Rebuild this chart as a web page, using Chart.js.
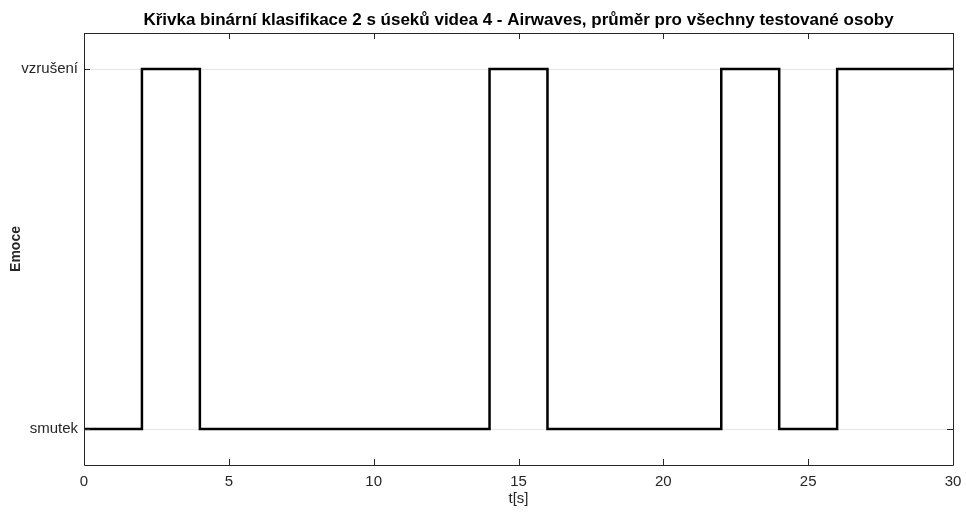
<!DOCTYPE html>
<html>
<head>
<meta charset="utf-8">
<script src="https://cdn.jsdelivr.net/npm/chart.js@4"></script>
<style>
html,body{margin:0;padding:0;background:#fff;}
#wrap{width:966px;height:512px;}
</style>
</head>
<body>
<div id="wrap"><canvas id="c" width="966" height="512"></canvas></div>
<script>
// segment start times [s] and class per segment (0 = smutek, 1 = vzrušení)
const segmentTimes = [0, 2, 4, 6, 8, 10, 12, 14, 16, 18, 20, 22, 24, 26, 28, 30];
const segmentClass = [0, 1, 0, 0, 0, 0, 0, 1, 0, 0, 0, 1, 0, 1, 1, 1];
const classLabels = ['smutek', 'vzrušení'];
const xTicks = [0, 5, 10, 15, 20, 25, 30];
const yTicks = [0, 1];

const points = segmentTimes.map((t, i) => ({x: t, y: segmentClass[i]}));
const FONT = "'Liberation Sans', Arial, Helvetica, sans-serif";
const TXT = '#262626';

const boxPlugin = {
  id: 'boxPlugin',
  afterDraw(chart) {
    const {ctx, chartArea: a, scales: {x, y}} = chart;
    ctx.save();
    ctx.strokeStyle = '#262626';
    ctx.lineWidth = 1;
    ctx.beginPath();
    ctx.rect(Math.round(a.left) + 0.5, Math.round(a.top) + 0.5, Math.round(a.right - a.left), Math.round(a.bottom - a.top));
    ctx.stroke();
    const tl = 6;
    ctx.beginPath();
    x.ticks.forEach(t => {
      const px = Math.round(x.getPixelForValue(t.value)) + 0.5;
      ctx.moveTo(px, a.bottom); ctx.lineTo(px, a.bottom - tl);
      ctx.moveTo(px, a.top); ctx.lineTo(px, a.top + tl);
    });
    y.ticks.forEach(t => {
      const py = Math.round(y.getPixelForValue(t.value)) + 0.5;
      ctx.moveTo(a.left, py); ctx.lineTo(a.left + tl, py);
      ctx.moveTo(a.right, py); ctx.lineTo(a.right - tl, py);
    });
    ctx.stroke();
    ctx.restore();
  }
};

new Chart(document.getElementById('c'), {
  type: 'line',
  data: {
    datasets: [{
      data: points,
      stepped: 'before',
      borderColor: '#000000',
      borderWidth: 2.5,
      pointRadius: 0,
      fill: false
    }]
  },
  options: {
    responsive: false,
    animation: false,
    devicePixelRatio: 1,
    layout: {padding: {left: 0, right: 13, top: 0, bottom: 0}},
    plugins: {
      legend: {display: false},
      tooltip: {enabled: false},
      title: {
        display: true,
        fullSize: false,
        text: 'Křivka binární klasifikace 2 s úseků videa 4 - Airwaves, průměr pro všechny testované osoby',
        color: '#000',
        font: {family: FONT, size: 17, weight: 'bold', lineHeight: 1.2},
        padding: {top: 10, bottom: 2.6}
      }
    },
    scales: {
      x: {
        type: 'linear',
        min: 0, max: 30,
        afterBuildTicks: s => { s.ticks = xTicks.map(v => ({value: v})); },
        afterFit: s => { s.height = 47; s.paddingLeft = 0; s.paddingRight = 0; },
        grid: {display: false, drawTicks: false},
        border: {display: false},
        ticks: {color: TXT, font: {family: FONT, size: 15}, padding: 8, maxRotation: 0},
        title: {display: true, text: 't[s]', color: TXT, font: {family: FONT, size: 15}, padding: {top: 0, bottom: 4}}
      },
      y: {
        type: 'linear',
        min: -0.1, max: 1.1,
        afterBuildTicks: s => { s.ticks = yTicks.map(v => ({value: v})); },
        afterFit: s => { s.width = 84; s.paddingTop = 0; s.paddingBottom = 0; },
        grid: {display: true, color: '#e6e6e6', drawTicks: false, lineWidth: 1},
        border: {display: false},
        ticks: {color: TXT, font: {family: FONT, size: 15}, padding: 6,
          callback: v => classLabels[v] !== undefined ? classLabels[v] : ''},
        title: {display: true, text: 'Emoce', color: TXT, font: {family: FONT, size: 14, weight: 'bold'}, padding: {top: 8, bottom: 0}}
      }
    }
  },
  plugins: [boxPlugin]
});
</script>
</body>
</html>
